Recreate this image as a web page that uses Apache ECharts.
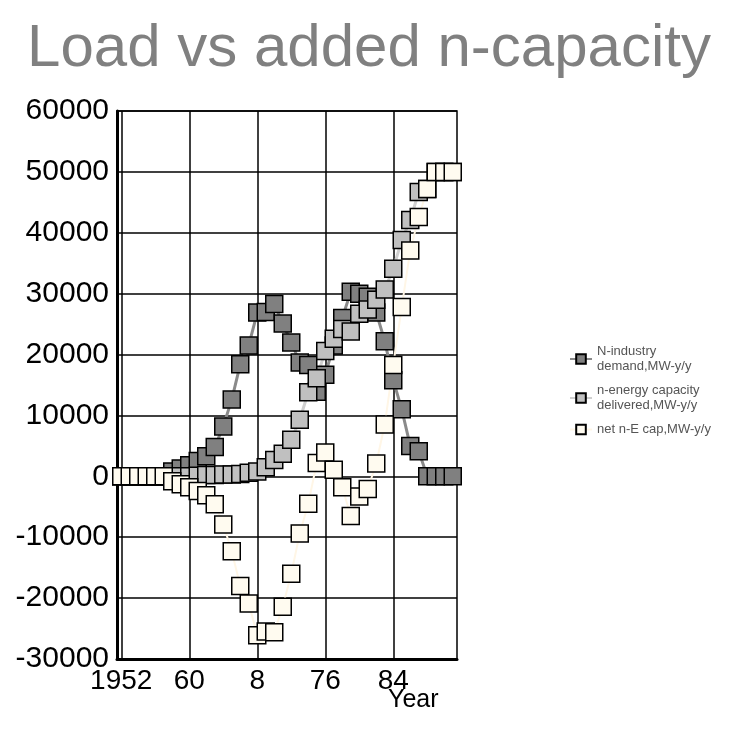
<!DOCTYPE html>
<html>
<head>
<meta charset="utf-8">
<script src="https://cdn.jsdelivr.net/npm/echarts@6/dist/echarts.min.js"></script>
<style>
  html, body { margin: 0; padding: 0; background: #fff; }
  .chart { width: 738px; height: 738px; }
</style>
</head>
<body>
<div class="chart"></div>
<script>
// years 1952 .. 1991
var years = [1952, 1953, 1954, 1955, 1956, 1957, 1958, 1959, 1960, 1961,
	1962, 1963, 1964, 1965, 1966, 1967, 1968, 1969, 1970, 1971,
	1972, 1973, 1974, 1975, 1976, 1977, 1978, 1979, 1980, 1981,
	1982, 1983, 1984, 1985, 1986, 1987, 1988, 1989, 1990, 1991];

var demand = [0, 0, 0, 0, 0, 0, 800, 1300, 1800, 2500,
	3300, 4800, 8200, 12600, 18400, 21500, 26900, 27000, 28300, 25100,
	22000, 18700, 18300, 13900, 16700, 21500, 26000, 30300, 30000, 29500,
	26900, 22200, 15800, 11000, 5000, 4100, 0, 0, 0, 0];

var delivered = [0, 0, 0, 0, 0, 0, 0, 0, 0, 100,
	200, 200, 300, 300, 400, 600, 800, 1500, 2700, 3700,
	6000, 9300, 13800, 16100, 20600, 22600, 24200, 23800, 26700, 27400,
	29000, 30700, 34100, 38800, 42100, 46700, 47200, 50000, 50000, 50000];

var netCap = [0, 0, 0, 0, 0, 0, -800, -1300, -1800, -2400,
	-3100, -4600, -7900, -12300, -18000, -20900, -26100, -25500, -25600, -21400,
	-16000, -9400, -4500, 2200, 3900, 1100, -1800, -6500, -3300, -2100,
	2100, 8500, 18300, 27800, 37100, 42600, 47200, 50000, 50000, 50000];

var xTicks = [1952, 1960, 1968, 1976, 1984];
var xTickLabels = ['1952', '60', '8', '76', '84'];

function pairs(vals) {
	return years.map(function (y, i) { return [y, vals[i]]; });
}

(function(){
	var myChart = echarts.init(document.querySelector('.chart'));
	var font = 'Liberation Sans, Arial, sans-serif';
	var option = {
		animation: false,
		textStyle: { fontFamily: font },
		title: {
			text: 'Load vs added n-capacity',
			left: 'center',
			top: 14,
			textStyle: { fontSize: 60, fontWeight: 'normal', color: '#808080', fontFamily: font }
		},
		legend: {
			orient: 'vertical',
			left: 564,
			top: 339,
			itemWidth: 22,
			itemHeight: 12,
			itemGap: 9,
			textStyle: { fontSize: 13, color: '#555', lineHeight: 15, fontFamily: font },
			data: ['N-industry\ndemand,MW-y/y', 'n-energy capacity\ndelivered,MW-y/y', 'net n-E cap,MW-y/y']
		},
		grid: {
			left: 117,
			right: 281,
			top: 111,
			bottom: 79,
			show: true,
			borderColor: '#000',
			borderWidth: 1.5
		},
		xAxis: {
			type: 'value',
			min: 1951.5,
			max: 1991.5,
			axisLine: { show: true, onZero: false, lineStyle: { color: '#000', width: 3 } },
			axisTick: { show: false, customValues: xTicks },
			axisLabel: {
				customValues: xTicks,
				fontSize: 28,
				color: '#000',
				margin: 8,
				formatter: function (v) {
					var i = xTicks.indexOf(v);
					return i >= 0 ? xTickLabels[i] : '';
				}
			},
			splitLine: { show: true, lineStyle: { color: '#000', width: 1.5 } }
		},
		yAxis: {
			type: 'value',
			min: -30000,
			max: 60000,
			interval: 10000,
			axisLine: { show: true, onZero: false, lineStyle: { color: '#000', width: 3 } },
			axisTick: { show: false },
			axisLabel: {
				fontSize: 30,
				color: '#000',
				margin: 8,
				formatter: function (v) { return String(v); }
			},
			splitLine: { show: true, lineStyle: { color: '#000', width: 1.5 } }
		},
		graphic: [
			{
				type: 'text',
				left: 388,
				top: 688,
				style: { text: 'Year', fontSize: 25, fill: '#000', fontFamily: font }
			}
		],
		series: [
			{
				name: 'N-industry\ndemand,MW-y/y',
				type: 'line',
				symbol: 'rect',
				symbolSize: 17,
				showAllSymbol: true,
				lineStyle: { color: '#8a8a8a', width: 3 },
				itemStyle: { color: '#808080', borderColor: '#000', borderWidth: 1.5 },
				data: pairs(demand)
			},
			{
				name: 'n-energy capacity\ndelivered,MW-y/y',
				type: 'line',
				symbol: 'rect',
				symbolSize: 17,
				showAllSymbol: true,
				lineStyle: { color: '#cfcfcf', width: 3 },
				itemStyle: { color: '#c0c0c0', borderColor: '#000', borderWidth: 1.5 },
				data: pairs(delivered)
			},
			{
				name: 'net n-E cap,MW-y/y',
				type: 'line',
				symbol: 'rect',
				symbolSize: 17,
				showAllSymbol: true,
				lineStyle: { color: '#fff6e6', width: 2 },
				itemStyle: { color: '#fffbf0', borderColor: '#000', borderWidth: 1.5 },
				data: pairs(netCap)
			}
		]
	};
	myChart.setOption(option);
	window.addEventListener("resize", function() {
		myChart.resize();
	});
})();
</script>
</body>
</html>
